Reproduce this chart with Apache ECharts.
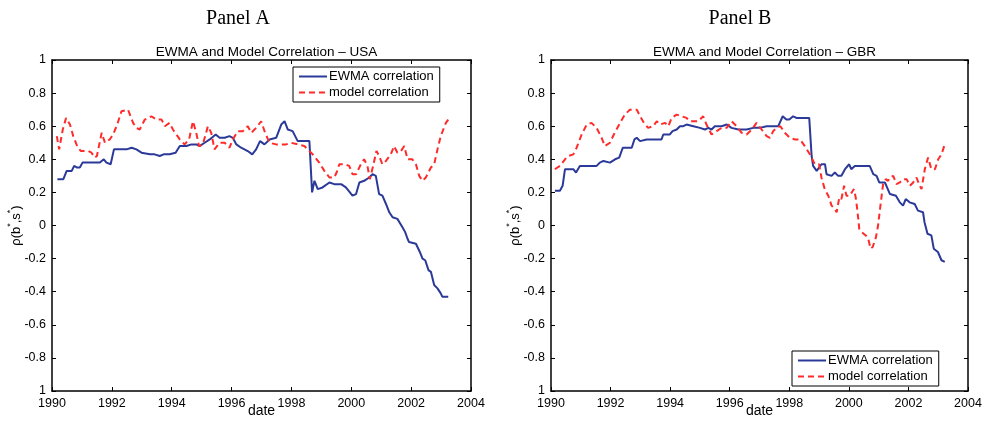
<!DOCTYPE html>
<html>
<head>
<meta charset="utf-8">
<script src="https://cdn.jsdelivr.net/npm/echarts@6/dist/echarts.min.js"></script>
<style>
  html, body { margin: 0; padding: 0; background: #fff; }
  #chart { width: 992px; height: 422px; }
</style>
</head>
<body>
<div id="chart"></div>
<script>
// [year, correlation] pairs
const usaEwma = [
  [1990.18, 0.28], [1990.38, 0.28], [1990.49, 0.33], [1990.66, 0.33], [1990.74, 0.36], [1990.84, 0.35],
  [1990.93, 0.35], [1991.02, 0.38], [1991.16, 0.38], [1991.43, 0.38], [1991.6, 0.38], [1991.73, 0.40],
  [1991.82, 0.38], [1991.96, 0.37], [1992.07, 0.46], [1992.49, 0.46], [1992.55, 0.45], [1992.66, 0.47],
  [1992.82, 0.46], [1992.99, 0.44], [1993.27, 0.43], [1993.43, 0.43], [1993.6, 0.42], [1993.73, 0.43],
  [1993.93, 0.43], [1994.13, 0.44], [1994.27, 0.48], [1994.49, 0.48], [1994.66, 0.49], [1994.82, 0.49],
  [1994.93, 0.48], [1995.1, 0.50], [1995.27, 0.52], [1995.47, 0.55], [1995.6, 0.53], [1995.77, 0.53],
  [1995.93, 0.54], [1996.04, 0.53], [1996.16, 0.49], [1996.32, 0.47], [1996.54, 0.45], [1996.69, 0.43],
  [1996.82, 0.46], [1996.95, 0.51], [1997.1, 0.49], [1997.27, 0.52], [1997.49, 0.53], [1997.66, 0.61],
  [1997.77, 0.63], [1997.88, 0.58], [1998.04, 0.57], [1998.21, 0.51], [1998.43, 0.51], [1998.6, 0.51],
  [1998.69, 0.20], [1998.77, 0.27], [1998.88, 0.22], [1999.04, 0.23], [1999.27, 0.26], [1999.43, 0.25],
  [1999.66, 0.25], [1999.82, 0.23], [2000.04, 0.18], [2000.16, 0.19], [2000.27, 0.26], [2000.43, 0.27],
  [2000.6, 0.29], [2000.71, 0.31], [2000.82, 0.30], [2000.93, 0.19], [2001.04, 0.18], [2001.16, 0.13],
  [2001.27, 0.08], [2001.38, 0.05], [2001.54, 0.04], [2001.71, -0.01], [2001.8, -0.04], [2001.88, -0.08],
  [2001.93, -0.10], [2002.16, -0.11], [2002.29, -0.16], [2002.38, -0.20], [2002.47, -0.21], [2002.58, -0.27],
  [2002.66, -0.28], [2002.71, -0.27], [2002.77, -0.36], [2002.88, -0.38], [2002.99, -0.41], [2003.04, -0.43],
  [2003.24, -0.43]
];

const usaModel = [
  [1990.16, 0.54], [1990.24, 0.46], [1990.36, 0.58], [1990.47, 0.65], [1990.6, 0.61], [1990.71, 0.54],
  [1990.84, 0.48], [1990.96, 0.45], [1991.21, 0.45], [1991.32, 0.44], [1991.43, 0.41], [1991.5, 0.42],
  [1991.66, 0.56], [1991.77, 0.50], [1991.93, 0.52], [1992.04, 0.55], [1992.18, 0.61], [1992.32, 0.69],
  [1992.54, 0.70], [1992.71, 0.62], [1992.82, 0.59], [1992.93, 0.58], [1993.1, 0.64], [1993.32, 0.66],
  [1993.49, 0.64], [1993.66, 0.64], [1993.77, 0.60], [1993.93, 0.62], [1994.04, 0.58], [1994.27, 0.52],
  [1994.43, 0.49], [1994.58, 0.52], [1994.71, 0.63], [1994.82, 0.56], [1994.91, 0.48], [1995.04, 0.49],
  [1995.21, 0.60], [1995.32, 0.56], [1995.43, 0.46], [1995.6, 0.50], [1995.77, 0.50], [1995.93, 0.47],
  [1996.04, 0.52], [1996.21, 0.57], [1996.38, 0.57], [1996.54, 0.60], [1996.66, 0.56], [1996.82, 0.59],
  [1996.99, 0.63], [1997.12, 0.56], [1997.27, 0.50], [1997.49, 0.49], [1997.82, 0.49], [1997.99, 0.50],
  [1998.21, 0.49], [1998.43, 0.48], [1998.71, 0.43], [1998.93, 0.38], [1999.1, 0.33], [1999.27, 0.29],
  [1999.43, 0.29], [1999.51, 0.32], [1999.6, 0.37], [1999.77, 0.37], [1999.93, 0.36], [2000.04, 0.31],
  [2000.16, 0.31], [2000.32, 0.37], [2000.43, 0.40], [2000.54, 0.36], [2000.62, 0.28], [2000.73, 0.36],
  [2000.84, 0.45], [2000.93, 0.42], [2001.04, 0.37], [2001.16, 0.39], [2001.32, 0.43], [2001.43, 0.48],
  [2001.54, 0.44], [2001.66, 0.45], [2001.77, 0.48], [2001.88, 0.40], [2002.04, 0.40], [2002.16, 0.37],
  [2002.27, 0.30], [2002.38, 0.27], [2002.49, 0.29], [2002.66, 0.35], [2002.77, 0.37], [2002.88, 0.46],
  [2002.99, 0.54], [2003.16, 0.62], [2003.24, 0.64]
];

const gbrEwma = [
  [1990.13, 0.21], [1990.3, 0.21], [1990.39, 0.24], [1990.47, 0.34], [1990.75, 0.34], [1990.84, 0.32],
  [1990.97, 0.36], [1991.14, 0.36], [1991.31, 0.36], [1991.53, 0.36], [1991.64, 0.38], [1991.76, 0.39],
  [1991.98, 0.38], [1992.15, 0.40], [1992.29, 0.41], [1992.41, 0.47], [1992.54, 0.47], [1992.71, 0.47],
  [1992.8, 0.52], [1992.88, 0.53], [1992.99, 0.51], [1993.21, 0.52], [1993.55, 0.52], [1993.71, 0.52],
  [1993.77, 0.55], [1993.99, 0.55], [1994.08, 0.57], [1994.22, 0.58], [1994.33, 0.60], [1994.44, 0.60],
  [1994.55, 0.61], [1994.78, 0.60], [1995.0, 0.59], [1995.17, 0.58], [1995.28, 0.59], [1995.39, 0.58],
  [1995.5, 0.60], [1995.73, 0.60], [1995.9, 0.61], [1996.06, 0.59], [1996.29, 0.58], [1996.57, 0.58],
  [1996.79, 0.59], [1997.01, 0.59], [1997.24, 0.60], [1997.46, 0.60], [1997.63, 0.60], [1997.78, 0.66],
  [1997.9, 0.64], [1998.0, 0.64], [1998.13, 0.66], [1998.24, 0.65], [1998.67, 0.65], [1998.75, 0.42],
  [1998.8, 0.36], [1998.92, 0.33], [1999.08, 0.37], [1999.2, 0.37], [1999.25, 0.31], [1999.42, 0.30],
  [1999.53, 0.32], [1999.64, 0.30], [1999.75, 0.30], [1999.87, 0.34], [2000.01, 0.37], [2000.08, 0.34],
  [2000.2, 0.36], [2000.31, 0.36], [2000.53, 0.36], [2000.7, 0.36], [2000.82, 0.31], [2000.93, 0.30],
  [2001.02, 0.26], [2001.21, 0.26], [2001.26, 0.24], [2001.38, 0.19], [2001.58, 0.18], [2001.71, 0.14],
  [2001.82, 0.12], [2001.91, 0.16], [2002.04, 0.14], [2002.21, 0.13], [2002.32, 0.09], [2002.49, 0.08],
  [2002.54, 0.02], [2002.64, -0.05], [2002.77, -0.06], [2002.85, -0.14], [2002.99, -0.16], [2003.11, -0.21],
  [2003.22, -0.22]
];

const gbrModel = [
  [1990.13, 0.34], [1990.3, 0.36], [1990.47, 0.40], [1990.58, 0.42], [1990.75, 0.43], [1990.86, 0.47],
  [1991.03, 0.55], [1991.2, 0.61], [1991.36, 0.62], [1991.53, 0.59], [1991.7, 0.53], [1991.81, 0.48],
  [1991.98, 0.50], [1992.11, 0.55], [1992.32, 0.62], [1992.48, 0.67], [1992.65, 0.70], [1992.88, 0.70],
  [1992.99, 0.66], [1993.12, 0.62], [1993.26, 0.59], [1993.43, 0.60], [1993.55, 0.63], [1993.66, 0.61],
  [1993.83, 0.62], [1993.94, 0.60], [1994.05, 0.65], [1994.22, 0.67], [1994.39, 0.66], [1994.55, 0.65],
  [1994.66, 0.63], [1994.78, 0.63], [1994.94, 0.63], [1995.11, 0.66], [1995.22, 0.61], [1995.39, 0.55],
  [1995.56, 0.57], [1995.73, 0.59], [1995.9, 0.59], [1996.06, 0.63], [1996.23, 0.60], [1996.4, 0.56],
  [1996.57, 0.55], [1996.74, 0.58], [1996.9, 0.62], [1997.07, 0.58], [1997.24, 0.54], [1997.35, 0.53],
  [1997.46, 0.57], [1997.57, 0.59], [1997.7, 0.60], [1997.85, 0.56], [1998.02, 0.53], [1998.19, 0.52],
  [1998.36, 0.52], [1998.52, 0.48], [1998.69, 0.43], [1998.86, 0.37], [1999.0, 0.37], [1999.08, 0.29],
  [1999.19, 0.22], [1999.31, 0.18], [1999.42, 0.12], [1999.53, 0.10], [1999.59, 0.08], [1999.68, 0.17],
  [1999.75, 0.16], [1999.84, 0.24], [1999.92, 0.18], [2000.03, 0.18], [2000.17, 0.22], [2000.23, 0.17],
  [2000.28, 0.10], [2000.35, -0.02], [2000.43, -0.04], [2000.57, -0.06], [2000.65, -0.08], [2000.73, -0.14],
  [2000.8, -0.13], [2000.91, -0.07], [2000.98, 0.00], [2001.06, 0.12], [2001.15, 0.25], [2001.24, 0.28],
  [2001.32, 0.27], [2001.37, 0.29], [2001.49, 0.30], [2001.6, 0.25], [2001.71, 0.26], [2001.82, 0.28],
  [2001.94, 0.28], [2002.05, 0.24], [2002.16, 0.26], [2002.27, 0.29], [2002.38, 0.24], [2002.44, 0.22],
  [2002.55, 0.34], [2002.66, 0.41], [2002.77, 0.34], [2002.89, 0.34], [2003.0, 0.40], [2003.11, 0.43],
  [2003.22, 0.49]
];

const panelTitles = ['Panel A', 'Panel B'];
const subTitles = ['EWMA and Model Correlation \u2013 USA', 'EWMA and Model Correlation \u2013 GBR'];
const seriesNames = ['EWMA correlation', 'model correlation'];

const sans = 'Liberation Sans';
const blue = '#2b3a98';
const red = '#ff2a2a';

const chart = echarts.init(document.getElementById('chart'));

const grids = [
  { left: 52, top: 60, width: 419, height: 331, outerBoundsMode: 'none' },
  { left: 551, top: 60, width: 417, height: 331, outerBoundsMode: 'none' }
];

const axisLine = { show: true, onZero: false, lineStyle: { color: '#000', width: 1.5 } };
const tickIn = { show: true, inside: true, length: 4, lineStyle: { color: '#000', width: 1 } };

const xAxes = [];
const yAxes = [];
grids.forEach((g, i) => {
  xAxes.push({
    type: 'value', gridIndex: i, min: 1990, max: 2004, interval: 2, position: 'bottom',
    name: 'date', nameLocation: 'middle', nameGap: 13, nameMoveOverlap: false,
    nameTextStyle: { fontFamily: sans, fontSize: 14, color: '#000' },
    axisLine, axisTick: tickIn, splitLine: { show: false },
    axisLabel: { color: '#000', fontFamily: sans, fontSize: 12.5, margin: 6, formatter: (v) => String(v) }
  });
  xAxes.push({
    type: 'value', gridIndex: i, min: 1990, max: 2004, interval: 2, position: 'top',
    axisLine, axisTick: tickIn, splitLine: { show: false }, axisLabel: { show: false }
  });
  yAxes.push({
    type: 'value', gridIndex: i, min: -1, max: 1, interval: 0.2, position: 'left',
    name: '{a|\u03c1(b}{s|*}{a|,s}{s|*}{a|)}', nameLocation: 'middle', nameGap: 29, nameRotate: 90,
    nameMoveOverlap: false,
    nameTextStyle: {
      rich: {
        a: { fontFamily: sans, fontSize: 13, color: '#000', lineHeight: 17, verticalAlign: 'bottom' },
        s: { fontFamily: sans, fontSize: 9, color: '#000', lineHeight: 17, verticalAlign: 'top' }
      }
    },
    axisLine, axisTick: tickIn, splitLine: { show: false },
    axisLabel: {
      color: '#000', fontFamily: sans, fontSize: 12.5, margin: 6,
      formatter: (v) => (Math.abs(v + 1) < 1e-9 ? '1' : String(Math.round(v * 10) / 10))
    }
  });
  yAxes.push({
    type: 'value', gridIndex: i, min: -1, max: 1, interval: 0.2, position: 'right',
    axisLine, axisTick: tickIn, splitLine: { show: false }, axisLabel: { show: false }
  });
});

const lineSeries = (name, data, idx, color, dashed) => ({
  name, type: 'line', data,
  xAxisIndex: idx * 2, yAxisIndex: idx * 2,
  symbol: 'none', smooth: false,
  lineStyle: { color, width: 2, type: dashed ? [6, 4] : 'solid' },
  itemStyle: { color },
  z: dashed ? 3 : 2
});

const legendBase = {
  data: seriesNames, orient: 'vertical', padding: [3, 6, 3, 5], itemGap: 3,
  itemWidth: 28, itemHeight: 13, borderColor: '#000', borderWidth: 1, backgroundColor: '#fff',
  itemStyle: { opacity: 0 },
  textStyle: { fontFamily: sans, fontSize: 13, color: '#000', padding: [0, 0, 0, -3] }
};

chart.setOption({
  animation: false,
  title: [
    { text: panelTitles[0], left: 233, top: 4, textAlign: 'center', textStyle: { fontFamily: 'Liberation Serif', fontSize: 20, fontWeight: 'normal', color: '#000' } },
    { text: panelTitles[1], left: 735, top: 4, textAlign: 'center', textStyle: { fontFamily: 'Liberation Serif', fontSize: 20, fontWeight: 'normal', color: '#000' } },
    { text: subTitles[0], left: 261.5, top: 40, textAlign: 'center', textStyle: { fontFamily: sans, fontSize: 13.5, fontWeight: 'normal', color: '#000' } },
    { text: subTitles[1], left: 759.5, top: 40, textAlign: 'center', textStyle: { fontFamily: sans, fontSize: 13.5, fontWeight: 'normal', color: '#000' } }
  ],
  legend: [
    Object.assign({}, legendBase, { left: 293, top: 67 }),
    Object.assign({}, legendBase, { left: 792, top: 351 })
  ],
  grid: grids,
  xAxis: xAxes,
  yAxis: yAxes,
  series: [
    lineSeries(seriesNames[0], usaEwma, 0, blue, false),
    lineSeries(seriesNames[1], usaModel, 0, red, true),
    lineSeries(seriesNames[0], gbrEwma, 1, blue, false),
    lineSeries(seriesNames[1], gbrModel, 1, red, true)
  ]
});

window.addEventListener('resize', () => chart.resize());
</script>
</body>
</html>
